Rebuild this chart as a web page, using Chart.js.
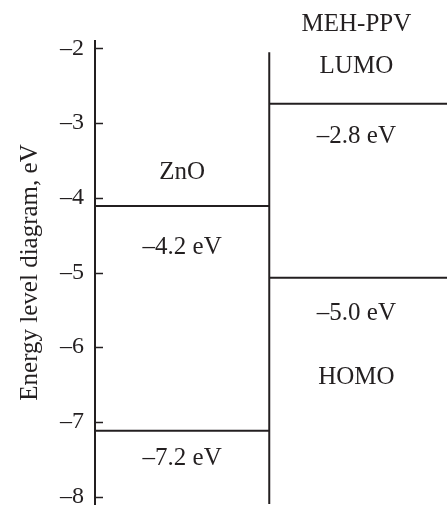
<!DOCTYPE html>
<html>
<head>
<meta charset="utf-8">
<script src="https://cdn.jsdelivr.net/npm/chart.js@4/dist/chart.umd.min.js"></script>
<style>
  html, body { margin: 0; padding: 0; background: #fff; overflow: hidden; }
  canvas { display: block; }
</style>
</head>
<body>
<canvas id="chart" width="447" height="506"></canvas>
<script>
// energy levels, eV (line heights as drawn)
var znoLevels = [-4.11, -7.12];
var mehLevels = [-2.74, -5.07];
var yTicks = [-8, -7, -6, -5, -4, -3, -2];

// text labels: [x, y, text]
var labels = [
    [0.5, -3.66, 'ZnO'],
    [0.5, -4.66, '\u20134.2 eV'],
    [0.5, -7.49, '\u20137.2 eV'],
    [1.5, -1.68, 'MEH-PPV'],
    [1.5, -2.24, 'LUMO'],
    [1.5, -3.18, '\u20132.8 eV'],
    [1.5, -5.55, '\u20135.0 eV'],
    [1.5, -6.40, 'HOMO']
];

var INK = '#231f20';
var SERIF = '"Liberation Serif", "DejaVu Serif", serif';

function levelLine(y, x0, x1) {
    return {
        data: [{ x: x0, y: y }, { x: x1, y: y }],
        showLine: true, borderColor: INK, borderWidth: 2,
        pointRadius: 0, fill: false
    };
}

var datasets = [];
znoLevels.forEach(function(v) { datasets.push(levelLine(v, 0, 1)); });
mehLevels.forEach(function(v) { datasets.push(levelLine(v, 1, 2.02)); });
// divider between the two materials
datasets.push({
    data: [{ x: 1, y: -8.1 }, { x: 1, y: -2.05 }],
    showLine: true, borderColor: INK, borderWidth: 2, pointRadius: 0
});

var innerTicks = {
    id: 'innerTicks',
    afterDraw: function(chart) {
        var ctx = chart.ctx, ys = chart.scales.y, left = chart.chartArea.left;
        ctx.save();
        ctx.strokeStyle = INK;
        ctx.lineWidth = 1.5;
        yTicks.forEach(function(v) {
            var p = Math.round(ys.getPixelForValue(v)) + 0.5;
            ctx.beginPath();
            ctx.moveTo(left, p);
            ctx.lineTo(left + 8, p);
            ctx.stroke();
        });
        ctx.fillStyle = INK;
        ctx.font = '25px ' + SERIF;
        ctx.textAlign = 'center';
        ctx.textBaseline = 'middle';
        labels.forEach(function(l) {
            ctx.fillText(l[2], chart.scales.x.getPixelForValue(l[0]), ys.getPixelForValue(l[1]));
        });
        ctx.restore();
    }
};

new Chart(document.getElementById('chart'), {
    type: 'scatter',
    data: { datasets: datasets },
    options: {
        responsive: false, animation: false,
        layout: { padding: { top: 41, bottom: 2, right: 0, left: 15 } },
        plugins: { legend: { display: false }, tooltip: { enabled: false } },
        scales: {
            x: {
                type: 'linear', min: 0, max: 2.02, display: false,
                afterFit: function(scale) { scale.paddingLeft = 0; scale.paddingRight = 0; }
            },
            y: {
                type: 'linear', min: -8.1, max: -1.9,
                afterBuildTicks: function(scale) {
                    scale.ticks = yTicks.map(function(v) { return { value: v }; });
                },
                // labels may overhang the plot edges, like the original
                afterFit: function(scale) { scale.paddingTop = 0; scale.paddingBottom = 0; },
                border: { display: true, color: INK, width: 2 },
                grid: { drawOnChartArea: false, drawTicks: false },
                ticks: {
                    color: INK, padding: 11,
                    font: { family: SERIF, size: 24 },
                    callback: function(v) { return String(v).replace('-', '\u2013'); }
                },
                title: {
                    display: true, text: 'Energy level diagram, eV', color: INK,
                    font: { family: SERIF, size: 25 }, padding: { top: 0, bottom: 4 }
                }
            }
        }
    },
    plugins: [innerTicks]
});
</script>
</body>
</html>
